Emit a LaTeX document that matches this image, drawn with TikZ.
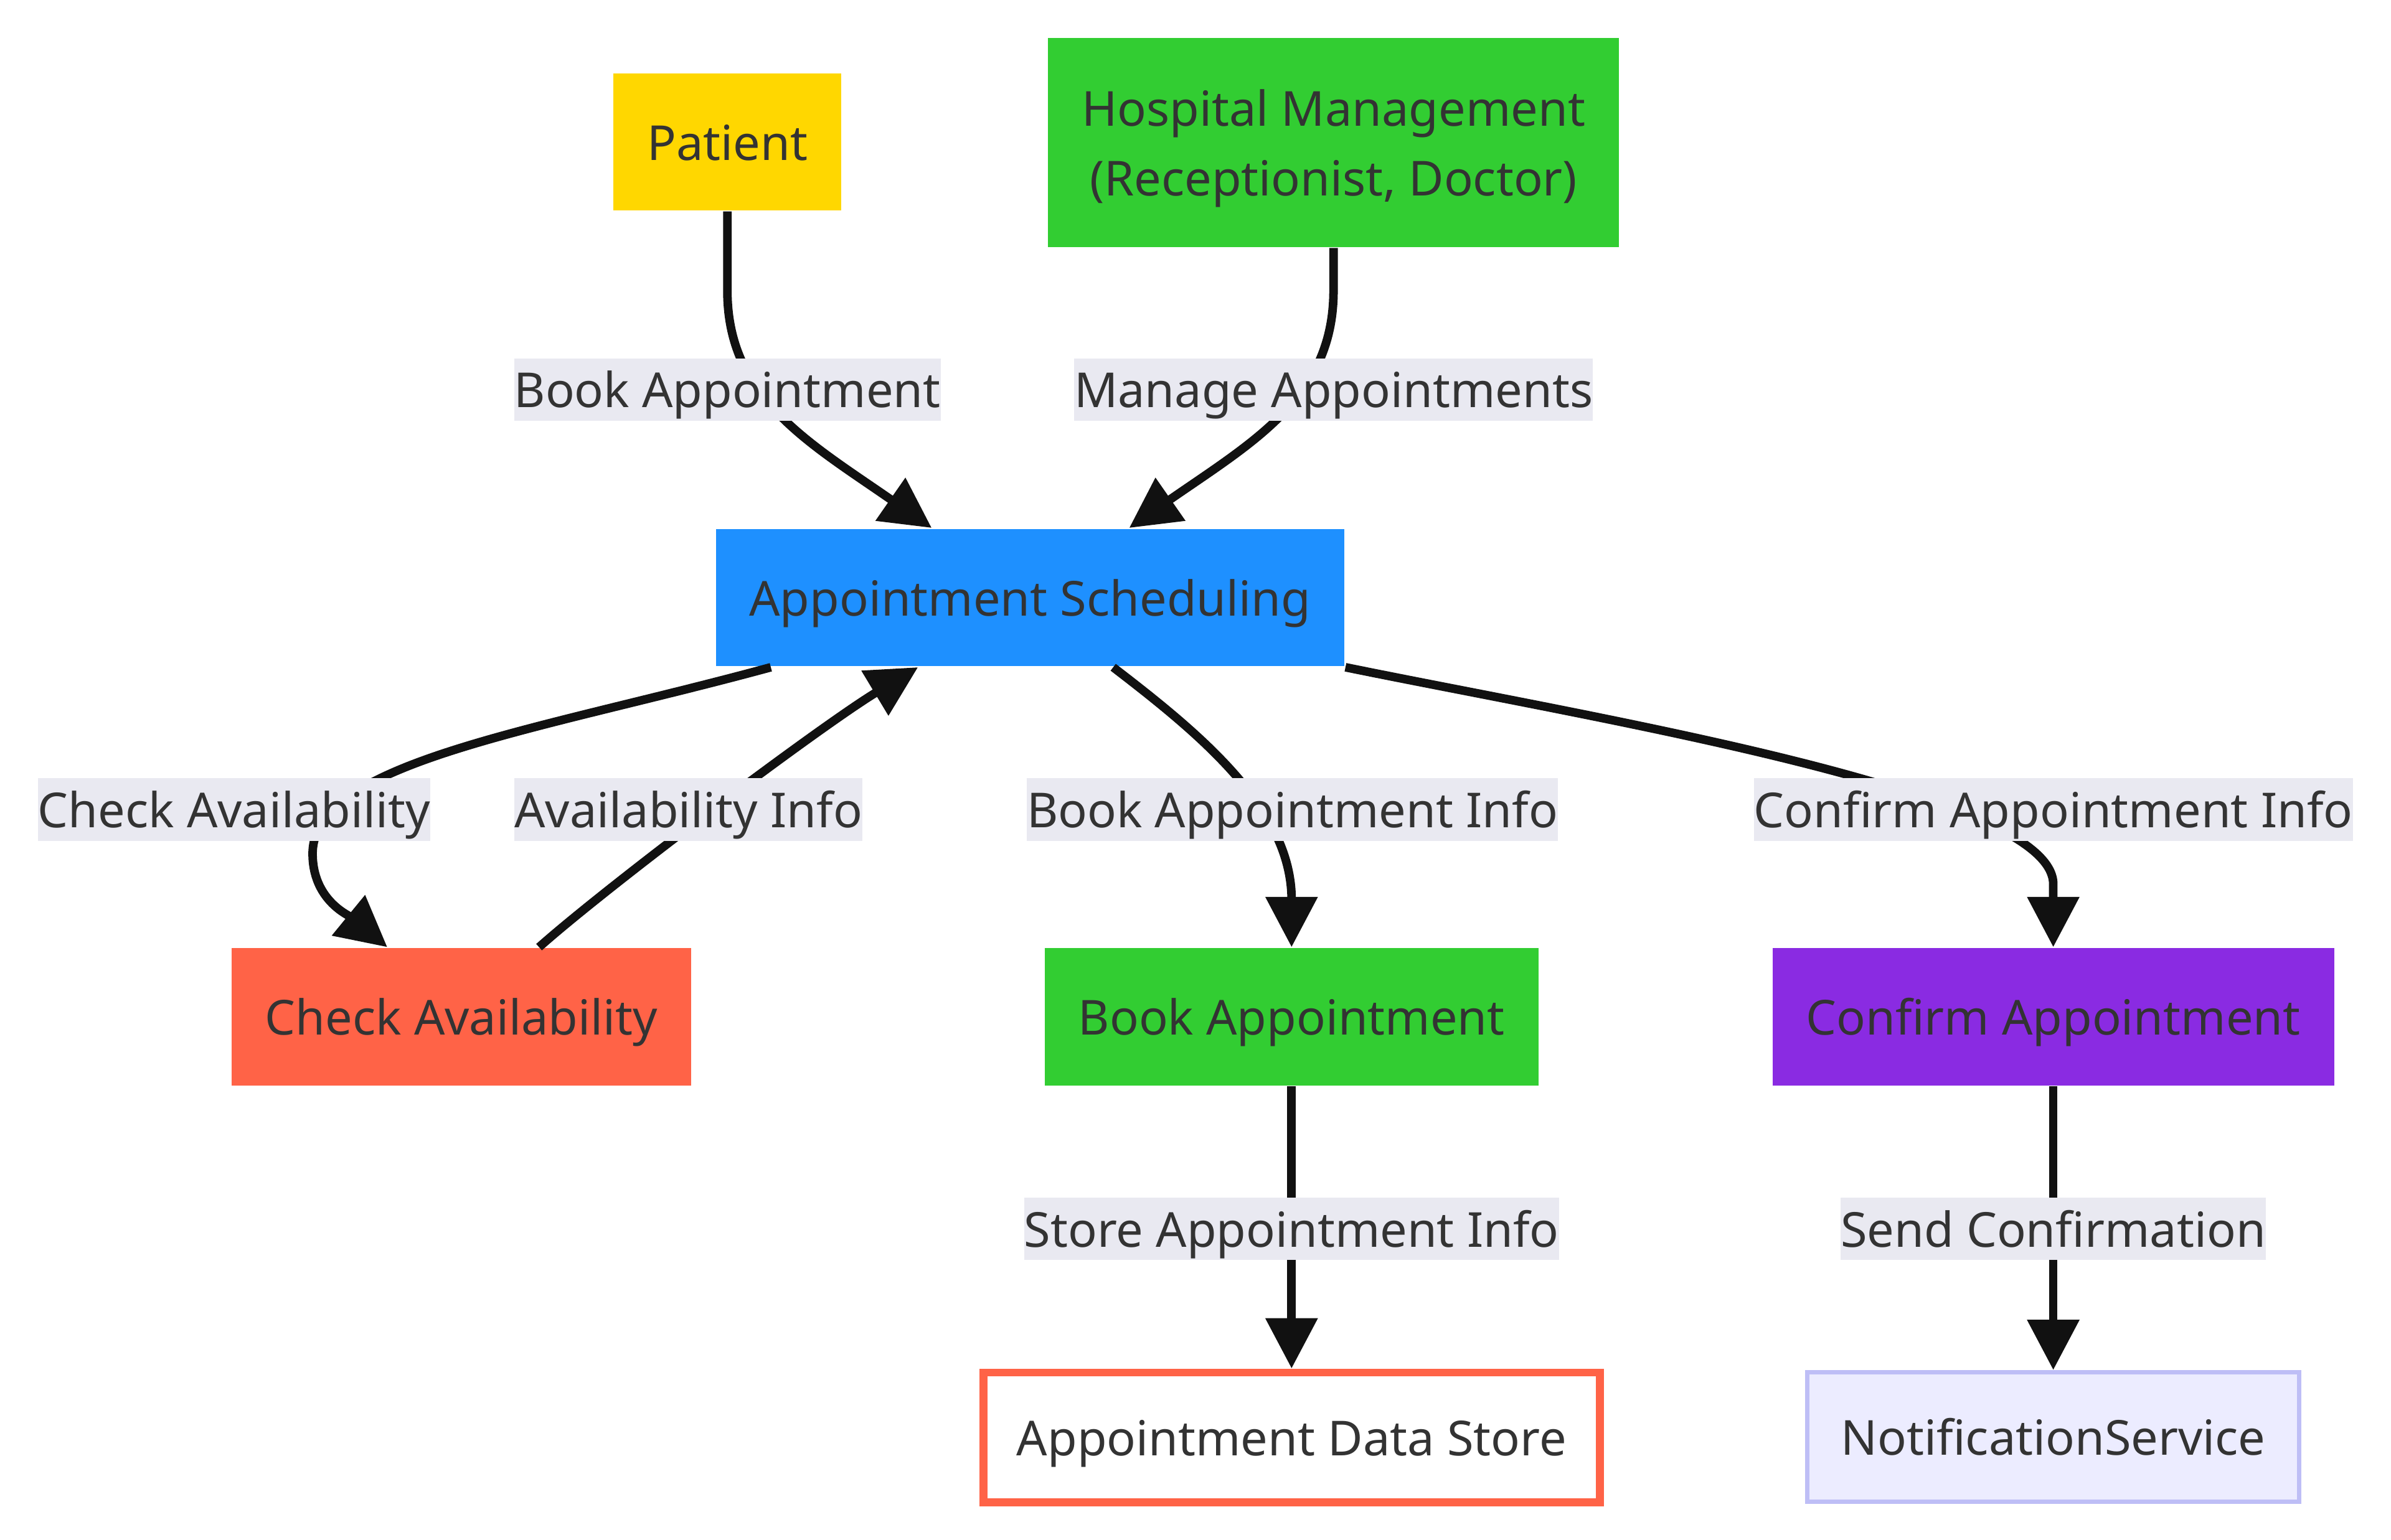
\documentclass[tikz,border=0pt]{standalone}
\usepackage{fontspec}
\setmainfont{Noto Sans}
\usetikzlibrary{arrows.meta,positioning,calc}
\definecolor{inkgray}{HTML}{333333}
\definecolor{patientgold}{HTML}{FFD700}
\definecolor{mgmtgreen}{HTML}{32CD32}
\definecolor{schedblue}{HTML}{1E90FF}
\definecolor{checkred}{HTML}{FF6347}
\definecolor{confirmviolet}{HTML}{8A2BE2}
\definecolor{notifyfill}{HTML}{ECECFF}
\definecolor{notifyline}{HTML}{BEBEF6}
\definecolor{labelbg}{HTML}{E9E9F1}
\definecolor{wireblack}{HTML}{111111}
\tikzset{
  proc/.style={
    rectangle,
    minimum height=0.9cm,
    inner xsep=0.22cm,
    inner ysep=0pt,
    text height=9pt,
    text depth=2.2pt,
    align=center,
    text=inkgray,
    font=\fontsize{9}{13}\selectfont
  },
  datastore/.style={
    proc,
    minimum height=0.85cm,
    draw=checkred,
    line width=1.5pt,
    fill=white
  },
  service/.style={
    proc,
    minimum height=0.85cm,
    draw=notifyline,
    line width=0.8pt,
    fill=notifyfill
  },
  flowlabel/.style={
    fill=labelbg,
    text=inkgray,
    minimum height=0.41cm,
    inner xsep=0pt,
    inner ysep=0pt,
    text height=9pt,
    text depth=2.2pt,
    font=\fontsize{9}{13}\selectfont
  },
  signal/.style={-{Triangle[length=3.3mm,width=3.3mm]}, line width=1.6pt, draw=wireblack}
}

\begin{document}
\begin{tikzpicture}
  \useasboundingbox (0,0) rectangle (15.68,-10.10);

  \node[proc, fill=patientgold] (patient) at (4.77,-0.93) {Patient};
  \node[proc, fill=mgmtgreen, minimum height=1.37cm, text height=22pt] (mgmt) at (8.745,-0.935) {Hospital Management\\(Receptionist, Doctor)};
  \node[proc, fill=schedblue] (sched) at (6.755,-3.92) {Appointment Scheduling};
  \node[proc, fill=checkred] (check) at (3.025,-6.67) {Check Availability};
  \node[proc, fill=mgmtgreen] (book) at (8.47,-6.67) {Book Appointment};
  \node[proc, fill=confirmviolet] (confirm) at (13.465,-6.67) {Confirm Appointment};
  \node[datastore, below=1.85cm of book] (apptdb) {Appointment Data Store};
  \node[service, below=1.86cm of confirm] (notify) {NotificationService};

  \draw[signal] (patient.south) -- ++(0,-0.52) .. controls +(0,-0.7) and (5.3,-2.9) .. ($(sched.north)+(-0.645,0)$);
  \draw[signal] (mgmt.south) -- ++(0,-0.28) .. controls +(0,-0.7) and (8.215,-2.9) .. ($(sched.north)+(0.65,0)$);
  \draw[signal] ($(sched.south)+(-1.70,0)$) .. controls (3.5,-4.8) and (2.05,-5.0) .. (2.05,-5.6)
    .. controls (2.05,-5.9) and (2.28,-6.0) .. ($(check.north)+(-0.485,0)$);
  \draw[signal] ($(check.north)+(0.51,0)$) .. controls (4.0,-5.8) and (5.4,-4.75) .. ($(sched.south)+(-0.735,0)$);
  \draw[signal] ($(sched.south)+(0.545,0)$) .. controls (7.85,-4.8) and (8.47,-5.3) .. (8.47,-5.9) -- (book.north);
  \draw[signal] (sched.south east) .. controls (10.5,-4.72) and (13.465,-5.2) .. (13.465,-5.8) -- (confirm.north);
  \draw[signal] (book) -- (apptdb);
  \draw[signal] (confirm) -- (notify);

  \node[flowlabel] (lblbook) at (4.77,-2.555) {Book Appointment};
  \node[flowlabel] (lblmanage) at (8.745,-2.555) {Manage Appointments};
  \node[flowlabel] (lblcheck) at (1.535,-5.31) {Check Availability};
  \node[flowlabel] (lblinfo) at (4.515,-5.31) {Availability Info};
  \node[flowlabel] (lblbookinfo) at (8.475,-5.31) {Book Appointment Info};
  \node[flowlabel] (lblconfirm) at (13.465,-5.31) {Confirm Appointment Info};
  \node[flowlabel] (lblstore) at (8.47,-8.06) {Store Appointment Info};
  \node[flowlabel] (lblsend) at (13.465,-8.06) {Send Confirmation};
\end{tikzpicture}
\end{document}
